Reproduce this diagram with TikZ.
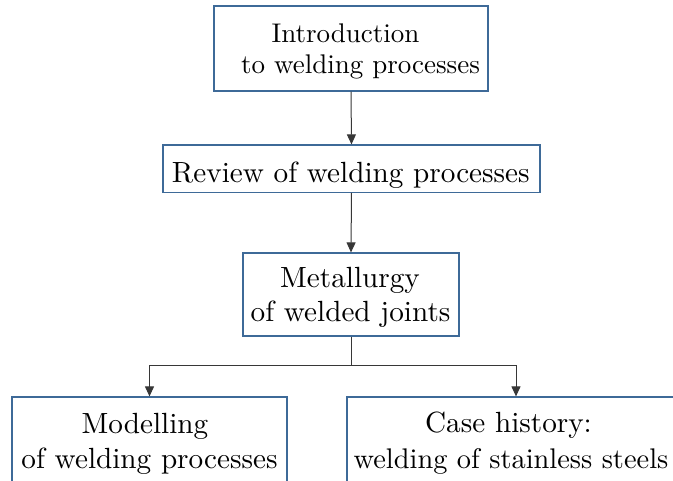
\documentclass[tikz,border=0pt]{standalone}
\usepackage{fontspec}
\setmainfont{lmroman10-regular.otf}
\usetikzlibrary{arrows.meta}
\definecolor{boxblue}{RGB}{62,106,152}
\definecolor{linegray}{RGB}{55,55,55}
\begin{document}
\begin{tikzpicture}[x=1pt,y=1pt,
  box/.style={draw=boxblue, line width=1.2pt, fill=white, rectangle, inner sep=0pt},
  txt/.style={anchor=base, inner sep=0pt, font=\fontsize{29.2}{35}\selectfont},
  txtsmall/.style={anchor=base, inner sep=0pt, font=\fontsize{27}{31}\selectfont},
  conn/.style={draw=linegray, line width=1pt},
  arr/.style={conn, -{Triangle[length=10pt,width=9pt]}}]
\useasboundingbox (0,0) rectangle (673,480);
\clip (0,0) rectangle (673,480);
% boxes
\node[box, minimum width=274pt, minimum height=85pt] (intro) at (351,431.5) {};
\node[box, minimum width=377pt, minimum height=47.3pt] (review) at (351.5,311.35) {};
\node[box, minimum width=216pt, minimum height=83pt] (metal) at (351,185.5) {};
\node[box, minimum width=275pt, minimum height=93pt] (model) at (149.5,36.5) {};
\node[box, minimum width=338pt, minimum height=93pt] (case) at (516,36.5) {};
% texts
\node[txtsmall] (introA) at (345.5,437.7) {Introduction};
\node[txtsmall] (introB) at (360.5,406.7) {to welding processes};
\node[txt] (reviewA) at (350.8,297.7) {Review of welding processes};
\node[txt] (metalA) at (350,192.7) {Metallurgy};
\node[txt] (metalB) at (350.5,158.3) {of welded joints};
\node[txt] (modelA) at (145,46.7) {Modelling};
\node[txt] (modelB) at (149.5,11.7) {of welding processes};
\node[txt] (caseA) at (508.5,47) {Case history:};
\node[txt, font=\fontsize{28.4}{35}\selectfont] (caseB) at (511,12) {welding of stainless steels};
% connectors
\coordinate (split) at (351,114);
\draw[arr] (intro.south) -- (review.north);
\draw[arr] (review.south) -- (metal.north);
\draw[conn] (metal.south) -- (split);
\draw[arr] (split) -| (model.north);
\draw[arr] (split) -| (case.north);
\end{tikzpicture}
\end{document}
